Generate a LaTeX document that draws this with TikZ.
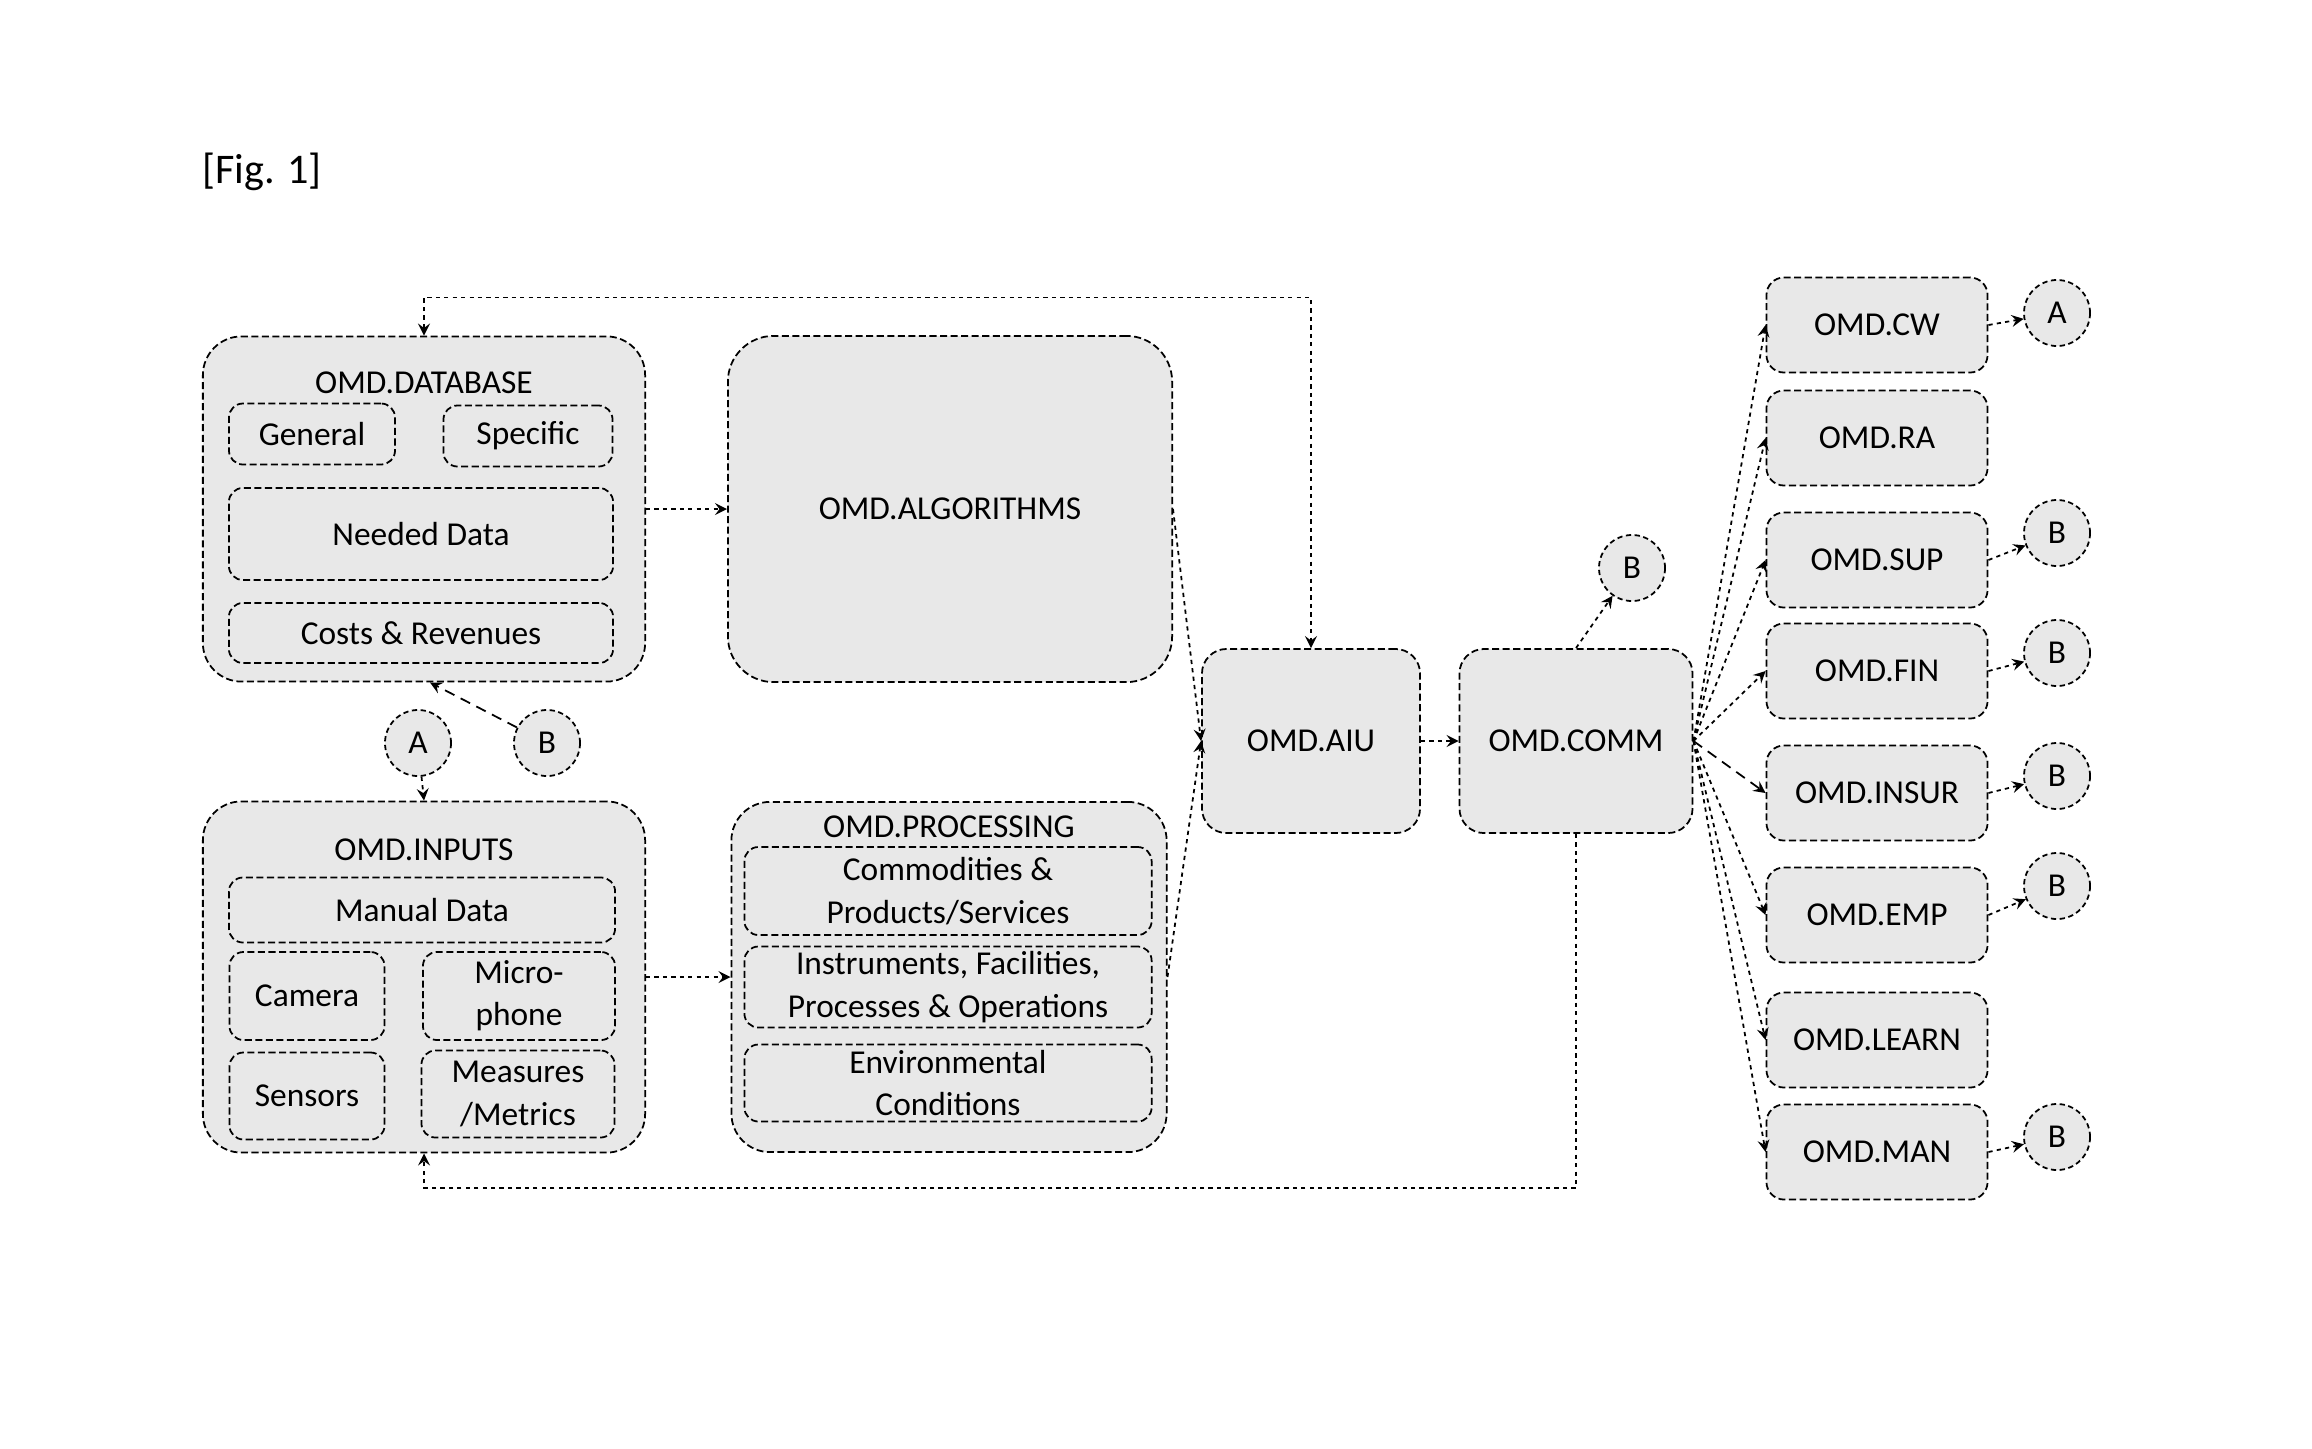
\documentclass[tikz,border=0pt]{standalone}
\usepackage{fontspec}
\setmainfont{Carlito}
\usetikzlibrary{arrows.meta}

\tikzset{
  omd/.style={draw, fill=gray!18, dash pattern=on 2pt off 1pt, line width=0.5pt,
    rounded corners=4pt, align=center, inner sep=1pt},
  outer/.style={omd, rounded corners=11pt},
  tag/.style={draw, fill=gray!18, dash pattern=on 1.5pt off 1pt, line width=0.5pt,
    circle, minimum size=0.66cm, inner sep=0pt},
  flow/.style={dash pattern=on 1.2pt off 1.2pt, line width=0.5pt},
  link/.style={dash pattern=on 3pt off 2pt, line width=0.5pt},
}

\begin{document}
\begin{tikzpicture}[x=0.01cm,y=-0.01cm,>=stealth,font=\fontsize{9.5}{12}\selectfont]
  \useasboundingbox (0,0) rectangle (2312,1448);

  \node (fig) at (262,172) {\fontsize{12}{14}\selectfont [Fig. 1]};

  % database and inputs
  \node[outer, minimum width=4.42cm, minimum height=3.45cm] (db) at (424,509) {};
  \node (dbt) at (424,383) {OMD.DATABASE};
  \node[omd, minimum width=1.66cm, minimum height=0.61cm] (gen) at (312,434) {General};
  \node[omd, minimum width=1.69cm, minimum height=0.61cm] (spec) at (528,436) {Specific};
  \node[omd, minimum width=3.84cm, minimum height=0.92cm] (need) at (421,534) {Needed Data};
  \node[omd, minimum width=3.84cm, minimum height=0.60cm] (cost) at (421,633) {Costs \& Revenues};

  \node[tag] (ain) at (418,743) {A};
  \node[tag] (bdb) at (547,743) {B};

  \node[outer, minimum width=4.42cm, minimum height=3.51cm] (inp) at (424,977) {};
  \node (inpt) at (424,850) {OMD.INPUTS};
  \node[omd, minimum width=3.86cm, minimum height=0.65cm] (man) at (422,910) {Manual Data};
  \node[omd, minimum width=1.55cm, minimum height=0.88cm] (cam) at (307,996) {Camera};
  \node[omd, minimum width=1.92cm, minimum height=0.88cm] (mic) at (519,996) {Micro-\\phone};
  \node[omd, minimum width=1.55cm, minimum height=0.87cm] (sens) at (307,1096) {Sensors};
  \node[omd, minimum width=1.93cm, minimum height=0.87cm] (meas) at (518,1094) {Measures\\/Metrics};

  % algorithms and processing
  \node[outer, rounded corners=13pt, minimum width=4.44cm, minimum height=3.46cm] (alg) at (950,509) {OMD.ALGORITHMS};

  \node[outer, minimum width=4.35cm, minimum height=3.50cm] (proc) at (949,977) {};
  \node (proct) at (949,827) {OMD.PROCESSING};
  \node[omd, minimum width=4.07cm, minimum height=0.88cm] (comd) at (948,891) {Commodities \&\\Products/Services};
  \node[omd, minimum width=4.07cm, minimum height=0.81cm] (inst) at (948,987) {Instruments, Facilities,\\Processes \& Operations};
  \node[omd, minimum width=4.07cm, minimum height=0.77cm] (env) at (948,1083) {Environmental\\Conditions};

  % aiu and comm
  \node[omd, rounded corners=7pt, minimum width=2.18cm, minimum height=1.84cm] (aiu) at (1311,741) {OMD.AIU};
  \node[omd, rounded corners=7pt, minimum width=2.33cm, minimum height=1.84cm] (comm) at (1576,741) {OMD.COMM};
  \node[tag] (bcomm) at (1632,568) {B};

  % modules
  \foreach \boxname/\txt/\yy in {cw/OMD.CW/325, ra/OMD.RA/438, sup/OMD.SUP/560, fin/OMD.FIN/671,
      insur/OMD.INSUR/793, emp/OMD.EMP/915, learn/OMD.LEARN/1040, mand/OMD.MAN/1152}
    \node[omd, rounded corners=5pt, minimum width=2.21cm, minimum height=0.95cm] (\boxname) at (1877,\yy) {\txt};

  \foreach \tagname/\lbl/\yy in {cwa/A/313, supb/B/533, finb/B/653, insurb/B/776, empb/B/886, mandb/B/1137}
    \node[tag] (\tagname) at (2057,\yy) {\lbl};

  \draw[flow,<->] (db.north) -- ++(0,-38) -| (aiu.north);
  \draw[flow,->] (comm.south) -- ++(0,354) -| (inp.south);
  \draw[flow,->] (db) -- (alg);
  \draw[flow,->] (inp) -- (proc);
  \draw[flow,->] (ain) -- (inp.north);
  \draw[link,->] (bdb) -- ([xshift=0.06cm]db.south);
  \draw[flow,->] (alg.east) -- (aiu.west);
  \draw[flow,->] (proc.east) -- (aiu.west);
  \draw[flow,->] (aiu) -- (comm);
  \draw[flow,->] (comm.north) -- (bcomm);

  \foreach \boxname in {cw,ra,sup,fin,emp,learn,mand}
    \draw[flow,->] (comm.east) -- (\boxname.west);
  \draw[link,->] (comm.east) -- (insur.west);

  \foreach \boxname/\tagname in {cw/cwa, sup/supb, fin/finb, insur/insurb, emp/empb, mand/mandb}
    \draw[flow,->] (\boxname.east) -- (\tagname);

\end{tikzpicture}
\end{document}
